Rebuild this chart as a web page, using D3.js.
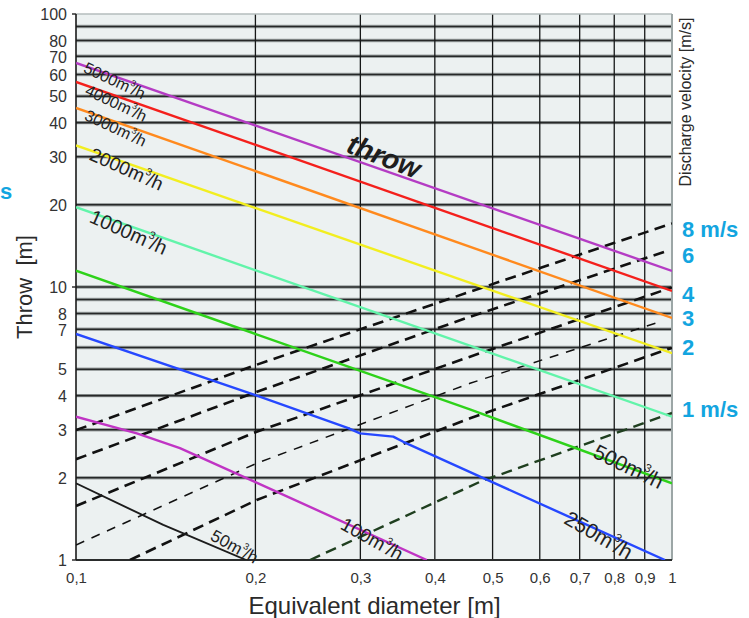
<!DOCTYPE html>
<html><head><meta charset="utf-8">
<script src="https://cdn.jsdelivr.net/npm/d3@7/dist/d3.min.js"></script>
<style>
html,body{margin:0;padding:0;background:#fff;}
svg{display:block;}
text{font-family:"Liberation Sans",Arial,Helvetica,sans-serif;}
</style></head><body>
<svg id="chart" width="749" height="618"></svg>
<script>
// Axis ticks
const diameterTicks = [0.1, 0.2, 0.3, 0.4, 0.5, 0.6, 0.7, 0.8, 0.9, 1];
const diameterLabels = ["0,1", "0,2", "0,3", "0,4", "0,5", "0,6", "0,7", "0,8", "0,9", "1"];
const throwGrid = [2, 3, 4, 5, 6, 7, 8, 9, 10, 20, 30, 40, 50, 60, 70, 80, 90];
const throwLabels = [1, 2, 3, 4, 5, 7, 8, 10, 20, 30, 40, 50, 60, 70, 80, 100];

// Throw [m] against equivalent diameter [m] for each air flow (m3/h)
const airflows = ["5000", "4000", "3000", "2000", "1000", "500", "250", "100", "50"];
const throw5000 = [[0.1, 66.2], [1, 11.45]];
const throw4000 = [[0.1, 56.4], [1, 9.67]];
const throw3000 = [[0.1, 45.3], [1, 7.70]];
const throw2000 = [[0.1, 33.0], [1, 5.72]];
const throw1000 = [[0.1, 19.6], [1, 3.35]];
const throw500  = [[0.1, 11.47], [0.458, 3.56], [1, 1.91]];
const throw250  = [[0.1, 6.73], [0.2, 4.02], [0.2863, 3.04], [0.2996, 2.91], [0.3406, 2.83], [0.3541, 2.71], [0.4764, 2.02], [0.973, 1.0]];
const throw100  = [[0.1, 3.35], [0.1265, 2.91], [0.1494, 2.57], [0.2, 1.93], [0.3877, 1.0]];
const throw50   = [[0.1, 1.91], [0.1401, 1.344], [0.1514, 1.253], [0.193, 1.0]];

// Constant discharge velocity lines
const velocities = ["8 m/s", "6", "4", "3", "2", "1 m/s"];
const velocity8 = [[0.1, 2.99], [0.2004, 5.18], [0.4583, 9.61], [1, 17.1]];
const velocity6 = [[0.1, 2.34], [0.2004, 4.12], [0.4583, 7.78], [0.973, 13.47]];
const velocity4 = [[0.1, 1.577], [0.201, 2.951], [0.4583, 5.556], [1, 9.97]];
const velocity3 = [[0.1, 1.135], [0.201, 2.261], [0.4583, 4.44], [0.955, 7.46]];
const velocity2 = [[0.1232, 1.0], [0.201, 1.659], [0.4583, 3.304], [1, 5.99]];
const velocity1 = [[0.247, 1.0], [0.4764, 1.935], [1, 3.455]];

const svg = d3.select("#chart");
const L = 76, R = 672, T = 14, B = 560;
const x = d3.scaleLog().domain([0.1, 1]).range([L, R]);
const y = d3.scaleLog().domain([1, 100]).range([B, T]);
const line = d3.line().x(d => x(d[0])).y(d => y(d[1]));

svg.append("defs").append("clipPath").attr("id", "plot")
  .append("rect").attr("x", L).attr("y", T).attr("width", R - L).attr("height", B - T);

// plot background
svg.append("rect").attr("x", L).attr("y", T).attr("width", R - L).attr("height", B - T)
  .attr("fill", "#ecf1f1");

// horizontal grid (soft halo + dark core)
const hGrid = svg.append("g");
hGrid.selectAll("line.halo").data(throwGrid).join("line").attr("class", "halo")
  .attr("x1", L).attr("x2", R).attr("y1", d => y(d)).attr("y2", d => y(d))
  .attr("stroke", "#9da3a3").attr("stroke-width", 3.4);
hGrid.selectAll("line.core").data(throwGrid).join("line").attr("class", "core")
  .attr("x1", L).attr("x2", R).attr("y1", d => y(d)).attr("y2", d => y(d))
  .attr("stroke", "#262828").attr("stroke-width", 1.6);

// vertical grid
svg.append("g").selectAll("line").data(diameterTicks.slice(1, -1)).join("line")
  .attr("x1", d => x(d)).attr("x2", d => x(d)).attr("y1", T).attr("y2", B)
  .attr("stroke", "#161818").attr("stroke-width", 1.3);

// frame
svg.append("line").attr("x1", L).attr("x2", R).attr("y1", T).attr("y2", T)
  .attr("stroke", "#b4bcbc").attr("stroke-width", 1.6);
svg.append("line").attr("x1", R).attr("x2", R).attr("y1", T).attr("y2", B)
  .attr("stroke", "#9ca6a6").attr("stroke-width", 2);
svg.append("line").attr("x1", L).attr("x2", R).attr("y1", B).attr("y2", B)
  .attr("stroke", "#2a2c2c").attr("stroke-width", 1.8);
svg.append("line").attr("x1", L).attr("x2", L).attr("y1", T).attr("y2", B)
  .attr("stroke", "#1a1a1a").attr("stroke-width", 1.6);

// axes
const yAxis = svg.append("g").attr("transform", `translate(${L},0)`)
  .call(d3.axisLeft(y).tickValues(throwLabels).tickFormat(d3.format("d")).tickSize(0).tickPadding(9));
yAxis.select(".domain").remove();
yAxis.selectAll("text").attr("font-size", 16).attr("fill", "#333").attr("dy", "0.36em");
svg.append("g").selectAll("line").data([1, 10, 100]).join("line")
  .attr("x1", L - 4).attr("x2", L).attr("y1", d => y(d)).attr("y2", d => y(d))
  .attr("stroke", "#222").attr("stroke-width", 1.4);

const xAxis = svg.append("g").attr("transform", `translate(0,${B})`)
  .call(d3.axisBottom(x).tickValues(diameterTicks).tickFormat((d, i) => diameterLabels[i]).tickSize(0).tickPadding(12));
xAxis.select(".domain").remove();
xAxis.selectAll("text").attr("font-size", 15).attr("fill", "#333");

// throw curves
const curveColors = ["#b43cc4", "#f4201c", "#ff8a1e", "#f2ee20", "#62f4aa", "#2ed21a", "#2648ff", "#c034c4", "#1c1c1c"];
const curves = [throw5000, throw4000, throw3000, throw2000, throw1000, throw500, throw250, throw100, throw50];
const plot = svg.append("g").attr("clip-path", "url(#plot)");

// velocity lines
const velLines = [velocity8, velocity6, velocity4, velocity3, velocity2, velocity1];
const velStyle = [
  {c: "#111", w: 2.6, dash: "11,6.5"},
  {c: "#111", w: 2.6, dash: "11,6.5"},
  {c: "#111", w: 2.6, dash: "11,6.5"},
  {c: "#111", w: 1.5, dash: "9,8"},
  {c: "#111", w: 2.6, dash: "11,6.5"},
  {c: "#1f3f1f", w: 2.4, dash: "11,6.5"}
];
plot.selectAll("path.vel").data(velLines).join("path").attr("class", "vel")
  .attr("d", line).attr("fill", "none")
  .attr("stroke", (d, i) => velStyle[i].c)
  .attr("stroke-width", (d, i) => velStyle[i].w)
  .attr("stroke-dasharray", (d, i) => velStyle[i].dash);

plot.selectAll("path.flow").data(curves).join("path").attr("class", "flow")
  .attr("d", line).attr("fill", "none")
  .attr("stroke", (d, i) => curveColors[i])
  .attr("stroke-width", (d, i) => i === 8 ? 1.9 : 2.4)
  .attr("stroke-linejoin", "round");

// curve labels
const labelPlace = [
  {at: [0.1025, 61.5], size: 16, angle: 25},
  {at: [0.1031, 50.8], size: 16, angle: 25},
  {at: [0.1029, 41.2], size: 16, angle: 25},
  {at: [0.1048, 29.4], size: 19, angle: 24},
  {at: [0.1048, 17.35], size: 20, angle: 24},
  {at: [0.7333, 2.39], size: 21, angle: 26},
  {at: [0.6555, 1.37], size: 21, angle: 30},
  {at: [0.2766, 1.306], size: 19, angle: 29},
  {at: [0.1674, 1.191], size: 17, angle: 29}
];
airflows.forEach((name, i) => {
  const p = labelPlace[i];
  const t = svg.append("text")
    .attr("transform", `translate(${x(p.at[0])},${y(p.at[1])}) rotate(${p.angle})`)
    .attr("font-size", p.size).attr("fill", "#222");
  t.append("tspan").text(name + "m");
  t.append("tspan").attr("font-size", p.size * 0.55).attr("dy", -p.size * 0.5).text("3");
  t.append("tspan").attr("dy", p.size * 0.5).attr("dx", -p.size * 0.08).text("/h");
});

// "throw" caption
svg.append("text")
  .attr("transform", `translate(${x(0.2827)},${y(31.3)}) rotate(21)`)
  .attr("font-size", 28).attr("font-weight", "bold").attr("font-style", "italic")
  .attr("fill", "#1e1e1e").text("throw");

// axis titles
svg.append("text").attr("x", 374.5).attr("y", 614).attr("text-anchor", "middle")
  .attr("font-size", 24).attr("fill", "#2a2a2a").text("Equivalent diameter [m]");
svg.append("text").attr("transform", "translate(32,287) rotate(-90)").attr("text-anchor", "middle")
  .attr("font-size", 22).attr("fill", "#2a2a2a").attr("xml:space", "preserve").style("white-space", "pre")
  .text("Throw  [m]");
svg.append("text").attr("transform", "translate(691,102) rotate(-90)").attr("text-anchor", "middle")
  .attr("font-size", 16).attr("fill", "#2a2a2a").text("Discharge velocity [m/s]");

// velocity captions at right edge
const velLabelY = [15.25, 12.22, 8.83, 7.2, 5.63, 3.35];
velocities.forEach((v, i) => {
  svg.append("text").attr("x", 682).attr("y", y(velLabelY[i]))
    .attr("font-size", 22).attr("font-weight", "bold").attr("fill", "#12a5e0").text(v);
});
svg.append("text").attr("x", 0).attr("y", 199)
  .attr("font-size", 22).attr("font-weight", "bold").attr("fill", "#12a5e0").text("s");
</script>
</body></html>
